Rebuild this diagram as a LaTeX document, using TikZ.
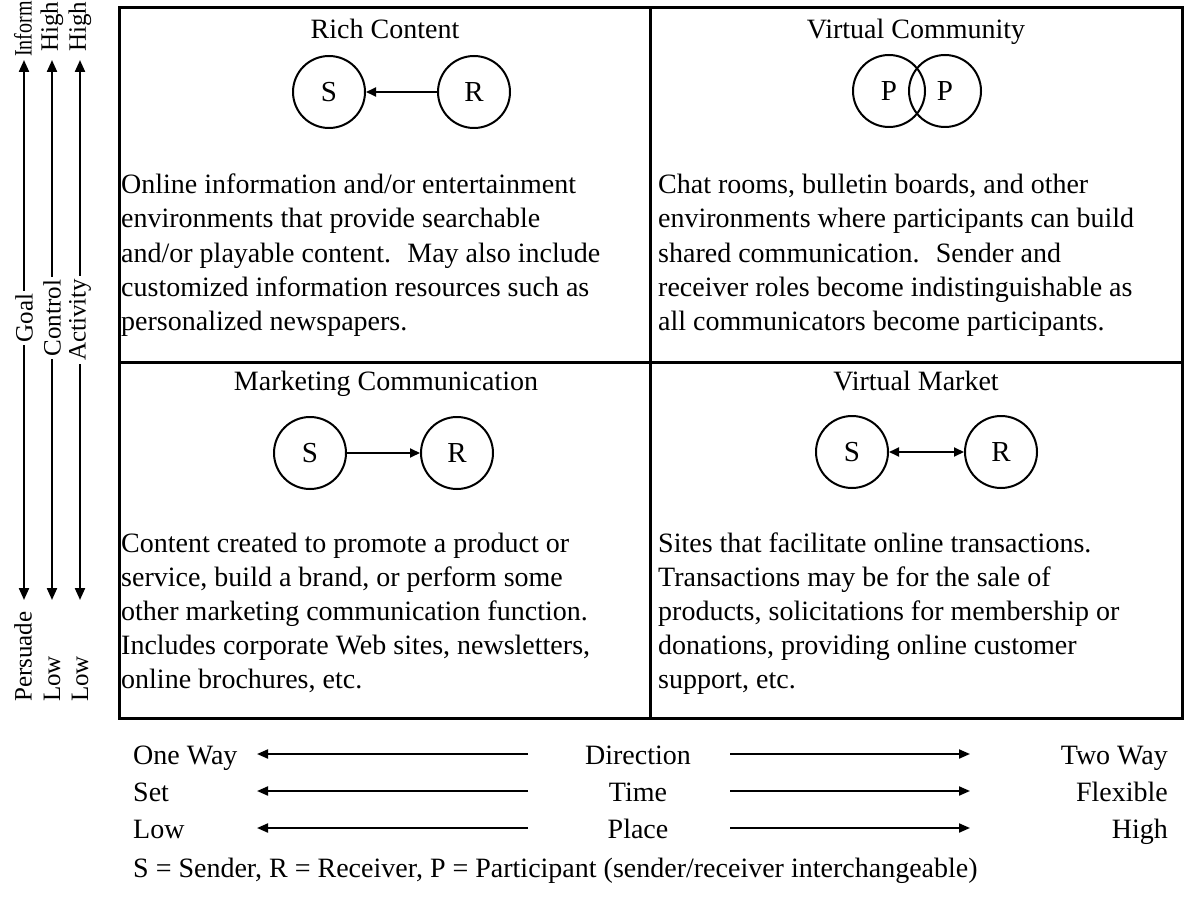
\documentclass[tikz,border=0pt]{standalone}
\usepackage{fontspec}
\setmainfont{Liberation Serif}
\usetikzlibrary{arrows.meta}
\begin{document}
\begin{tikzpicture}[x=1pt,y=-1pt,
  body/.style={font=\fontsize{28}{34}\selectfont, inner sep=0pt},
  side/.style={font=\fontsize{25}{25}\selectfont, inner sep=0pt, rotate=90},
  circ/.style={draw, circle, line width=2pt, minimum size=72pt, inner sep=0pt, font=\fontsize{29}{34}\selectfont},
  gridline/.style={line width=3pt},
  arr/.style={line width=2.2pt, -{Triangle[length=12pt,width=10pt]}},
  carr/.style={line width=1.8pt, -{Triangle[length=10pt,width=9pt]}},
  harr/.style={line width=2pt, -{Triangle[length=11pt,width=9pt]}},
]
\useasboundingbox (0,0) rectangle (1185,901);
% frame
\draw[gridline] (119,8) rectangle (1182,718);
\draw[gridline] (650,8) -- (650,718);
\draw[gridline] (119,362) -- (1182,362);

% titles
\node[body, anchor=base] (t1) at (385,39) {Rich Content};
\node[body, anchor=base] (t2) at (916,39) {Virtual Community};
\node[body, anchor=base] (t3) at (386,390) {Marketing Communication};
\node[body, anchor=base] (t4) at (916,390) {Virtual Market};

% circles
\node[circ] (rcS) at (329,92) {S};
\node[circ] (rcR) at (474,92) {R};
\draw[carr] (rcR) -- (rcS);
\node[circ] (vcP1) at (889,91) {P};
\node[circ] (vcP2) at (945,91) {P};
\node[circ] (mcS) at (310,453) {S};
\node[circ] (mcR) at (457,453) {R};
\draw[carr] (mcS) -- (mcR);
\node[circ] (vmS) at (852,452) {S};
\node[circ] (vmR) at (1001,452) {R};
\draw[carr, {Triangle[length=10pt,width=9pt]}-{Triangle[length=10pt,width=9pt]}] (vmS) -- (vmR);

% body texts
\foreach \t [count=\i] in {{Online information and/or entertainment},{environments that provide searchable},{and/or playable content.~ May also include},{customized information resources such as},{personalized newspapers.}}
  \node[body, anchor=base west] (ul\i) at (121,{194+34*(\i-1)}) {\t};
\foreach \t [count=\i] in {{Chat rooms, bulletin boards, and other},{environments where participants can build},{shared communication.~ Sender and},{receiver roles become indistinguishable as},{all communicators become participants.}}
  \node[body, anchor=base west] (ur\i) at (658,{194+34*(\i-1)}) {\t};
\foreach \t [count=\i] in {{Content created to promote a product or},{service, build a brand, or perform some},{other marketing communication function.},{Includes corporate Web sites, newsletters,},{online brochures, etc.}}
  \node[body, anchor=base west] (ll\i) at (121,{552+34*(\i-1)}) {\t};
\foreach \t [count=\i] in {{Sites that facilitate online transactions.},{Transactions may be for the sale of},{products, solicitations for membership or},{donations, providing online customer},{support, etc.}}
  \node[body, anchor=base west] (lr\i) at (658,{552+34*(\i-1)}) {\t};

% left vertical scales
\node[side, anchor=west] (inform) at (23,57) {\scalebox{0.8}[1]{Inform}};
\node[side, anchor=west] (high1) at (52,52) {High};
\node[side, anchor=west] (high2) at (80,52) {High};
\node[side] (goal) at (24,318) {Goal};
\node[side] (control) at (52,318) {Control};
\node[side] (activity) at (80,320) {Activity};
\node[side, anchor=west] (persuade) at (23,702) {Persuade};
\node[side, anchor=west] (low1) at (52,702) {Low};
\node[side, anchor=west] (low2) at (80,702) {Low};
\coordinate (gT) at (24,60);
\coordinate (cT) at (52,60);
\coordinate (aT) at (80,60);
\coordinate (gB) at (24,600);
\coordinate (cB) at (52,600);
\coordinate (aB) at (80,600);
\draw[arr, shorten <=3pt] (goal.east) -- (gT);
\draw[arr, shorten <=3pt] (control.east) -- (cT);
\draw[arr, shorten <=3pt] (activity.east) -- (aT);
\draw[arr, shorten <=3pt] (goal.west) -- (gB);
\draw[arr, shorten <=3pt] (control.west) -- (cB);
\draw[arr, shorten <=3pt] (activity.west) -- (aB);

% bottom scales
\node[body, anchor=base west] (oneway) at (133,764) {One Way};
\node[body, anchor=base west] (set) at (133,801) {Set};
\node[body, anchor=base west] (lowb) at (133,838) {Low};
\node[body, anchor=base] (direction) at (638,764) {Direction};
\node[body, anchor=base] (time) at (638,801) {Time};
\node[body, anchor=base] (place) at (638,838) {Place};
\node[body, anchor=base east] (twoway) at (1168,764) {Two Way};
\node[body, anchor=base east] (flexible) at (1168,801) {Flexible};
\node[body, anchor=base east] (highb) at (1168,838) {High};
\foreach \r/\yy in {1/754,2/791,3/828}{
  \coordinate (Ls\r) at (528,\yy);
  \coordinate (Lt\r) at (257,\yy);
  \coordinate (Rs\r) at (730,\yy);
  \coordinate (Rt\r) at (970,\yy);
  \draw[harr] (Ls\r) -- (Lt\r);
  \draw[harr] (Rs\r) -- (Rt\r);
}

% legend
\node[body, anchor=base west] (legend) at (133,877) {S = Sender, R = Receiver, P = Participant (sender/receiver interchangeable)};
\end{tikzpicture}
\end{document}
